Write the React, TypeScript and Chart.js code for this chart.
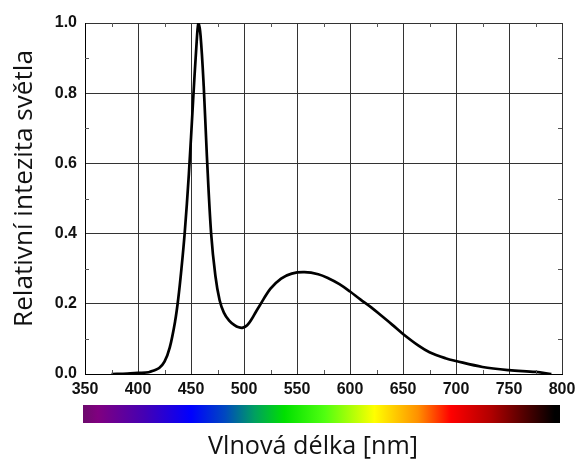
import React, { useEffect, useRef } from 'react';
import { Chart, registerables } from 'chart.js';

Chart.register(...registerables);

const wavelengths = [375, 390, 400, 410, 415, 420, 425, 430, 435, 438, 441, 444, 448, 452, 455, 457, 459, 462, 465, 469, 473, 477, 481, 486, 491, 495, 499, 503, 507, 511, 515, 525, 535, 545, 557, 570, 580, 590, 600, 610, 620, 630, 640, 650, 665, 675, 690, 700, 725, 750, 775, 790];
const intensity = [0, 0.001, 0.003, 0.005, 0.01, 0.017, 0.035, 0.076, 0.15, 0.215, 0.3, 0.4, 0.57, 0.78, 0.93, 1.0, 0.965, 0.82, 0.62, 0.4, 0.28, 0.21, 0.175, 0.152, 0.139, 0.133, 0.132, 0.139, 0.155, 0.176, 0.196, 0.243, 0.272, 0.286, 0.29, 0.284, 0.272, 0.256, 0.235, 0.212, 0.19, 0.165, 0.14, 0.114, 0.08, 0.062, 0.045, 0.037, 0.02, 0.011, 0.006, 0.0];

const xTicks = [350, 400, 450, 500, 550, 600, 650, 700, 750, 800];
const yTicks = [0, 0.2, 0.4, 0.6, 0.8, 1.0];
const xMinorTicks = [375, 425, 475, 525, 575, 625, 675, 725, 775];
const yMinorTicks = [0.1, 0.3, 0.5, 0.7, 0.9];

const spectrumWavelengths = [350, 364, 408, 452, 484, 512, 540, 578, 625, 666, 697, 735, 767, 795, 800];
const spectrumColors = ['#6c0a6c', '#800080', '#4400b4', '#0000ff', '#0048c0', '#00a060', '#00e000', '#50ff10', '#ffff00', '#ff9000', '#ff0000', '#b00000', '#500000', '#000000', '#000000'];

const xTitle = 'Vlnová délka [nm]';
const yTitle = 'Relativní intezita světla';

export default function App() {
  const ref = useRef<HTMLCanvasElement>(null);

  useEffect(() => {
    const canvas = ref.current;
    if (!canvas) return;
    const ctx2d = canvas.getContext('2d');
    if (!ctx2d) return;

    const fitFont = (ctx: CanvasRenderingContext2D, text: string, family: string, width: number) => {
      ctx.font = `100px ${family}`;
      const w = ctx.measureText(text).width;
      return (100 * width) / w;
    };

    const extras = {
      id: 'extras',
      beforeDraw(chart: any) {
        const { ctx } = chart;
        ctx.save();
        ctx.fillStyle = '#ffffff';
        ctx.fillRect(0, 0, chart.width, chart.height);
        ctx.restore();
      },
      afterDraw(chart: any) {
        const { ctx, chartArea } = chart;
        const x = chart.scales.x;
        const y = chart.scales.y;
        ctx.save();
        // minor ticks
        ctx.strokeStyle = '#555';
        ctx.lineWidth = 1;
        ctx.beginPath();
        for (const v of xMinorTicks) {
          const px = Math.round(x.getPixelForValue(v)) + 0.5;
          ctx.moveTo(px, chartArea.bottom);
          ctx.lineTo(px, chartArea.bottom - 4);
          ctx.moveTo(px, chartArea.top);
          ctx.lineTo(px, chartArea.top + 4);
        }
        for (const v of yMinorTicks) {
          const py = Math.round(y.getPixelForValue(v)) + 0.5;
          ctx.moveTo(chartArea.left, py);
          ctx.lineTo(chartArea.left + 4, py);
          ctx.moveTo(chartArea.right, py);
          ctx.lineTo(chartArea.right - 4, py);
        }
        ctx.stroke();

        // spectrum bar
        const x0 = x.getPixelForValue(350) - 2;
        const x1 = x.getPixelForValue(800) - 2;
        const grad = ctx.createLinearGradient(x0, 0, x1, 0);
        spectrumWavelengths.forEach((w, i) => {
          grad.addColorStop((w - 350) / 450, spectrumColors[i]);
        });
        ctx.fillStyle = grad;
        ctx.fillRect(x0, 405, x1 - x0, 18);

        // titles
        ctx.fillStyle = '#111';
        const fam = '"Open Sans"';
        const xs = fitFont(ctx, xTitle, fam, 210);
        ctx.font = `${xs}px ${fam}`;
        ctx.textAlign = 'center';
        ctx.textBaseline = 'alphabetic';
        ctx.fillText(xTitle, 313, 454);

        const ys = fitFont(ctx, yTitle, fam, 277);
        ctx.font = `${ys}px ${fam}`;
        ctx.translate(32, 188.5);
        ctx.rotate(-Math.PI / 2);
        ctx.fillText(yTitle, 0, 0);
        ctx.restore();
      },
    };

    const tickFont = { family: '"Liberation Sans", Arial, sans-serif', size: 16, weight: 'bold' as const };

    const chart = new Chart(ctx2d, {
      type: 'line',
      data: {
        datasets: [
          {
            data: wavelengths.map((w, i) => ({ x: w, y: intensity[i] })),
            borderColor: '#000',
            borderWidth: 2.7,
            pointRadius: 0,
            tension: 0.35,
            fill: false,
          },
        ],
      },
      options: {
        animation: false,
        responsive: false,
        maintainAspectRatio: false,
        layout: { padding: { top: 23, right: 14, left: 0, bottom: 0 } },
        plugins: { legend: { display: false }, tooltip: { enabled: false } },
        scales: {
          x: {
            type: 'linear',
            min: 350,
            max: 800,
            afterBuildTicks: (s: any) => {
              s.ticks = xTicks.map((v) => ({ value: v }));
            },
            afterFit: (s: any) => {
              s.height = 461 - 374;
              s.paddingLeft = 0;
              s.paddingRight = 0;
            },
            grid: { color: '#333', lineWidth: 1, drawTicks: false },
            border: { color: '#000', width: 1 },
            ticks: { padding: 6, font: tickFont, color: '#111', maxRotation: 0, autoSkip: false },
          },
          y: {
            type: 'linear',
            min: 0,
            max: 1,
            afterBuildTicks: (s: any) => {
              s.ticks = yTicks.map((v) => ({ value: v }));
            },
            afterFit: (s: any) => {
              s.width = 85;
              s.paddingTop = 0;
              s.paddingBottom = 0;
            },
            grid: { color: '#333', lineWidth: 1, drawTicks: false },
            border: { color: '#000', width: 1 },
            ticks: {
              padding: 8,
              font: tickFont,
              color: '#111',
              callback: (v: any) => Number(v).toFixed(1),
            },
          },
        },
      },
      plugins: [extras],
    } as any);

    return () => chart.destroy();
  }, []);

  return (
    <div style={{ position: 'fixed', left: 0, top: 0, width: 576, height: 461 }}>
      <canvas ref={ref} width={576} height={461} style={{ display: 'block' }} />
    </div>
  );
}
